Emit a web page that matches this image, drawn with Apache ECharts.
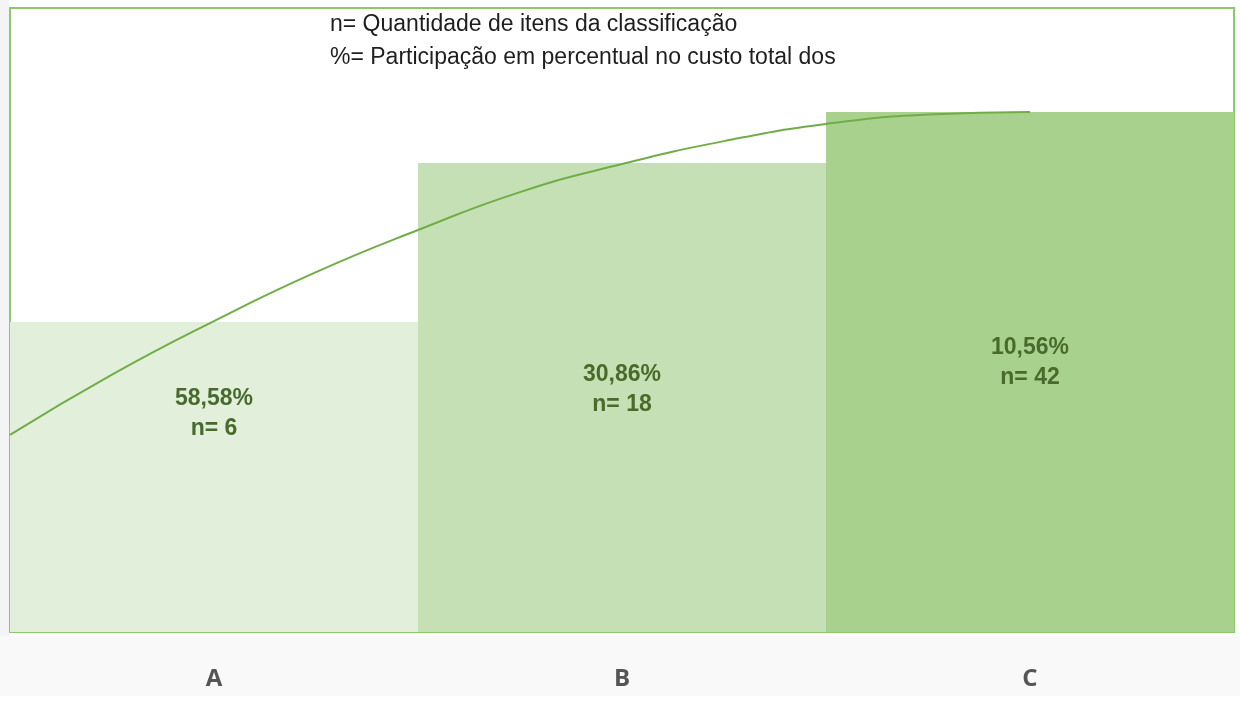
<!DOCTYPE html>
<html><head><meta charset="utf-8">
<script src="https://cdn.jsdelivr.net/npm/echarts@6/dist/echarts.min.js"></script>
<style>html,body{margin:0;padding:0;background:#fff}#c{width:1240px;height:710px}</style>
</head><body><div id="c"></div>
<script>
const categories = ['A', 'B', 'C'];
const barHeights = [59.6, 90.2, 100];
const pctLabels = ['58,58%', '30,86%', '10,56%'];
const nItems = [6, 18, 42];
const barColors = ['#e2efda', '#c5e0b4', '#a9d18e'];
const curveX = [0, 0.25, 0.5, 0.75, 1.0, 1.25, 1.5, 1.75, 2.0, 2.25, 2.5];
const curveY = [37.9, 49.5, 59.8, 69.2, 77.3, 84.6, 90.0, 94.4, 97.7, 99.5, 100];
const labelOffsets = [[0, -63], [0, -8], [0, -9]];
const headerLines = ['n= Quantidade de itens da classificação', '%= Participação em percentual no custo total dos'];

const sans = '"Liberation Sans", Arial, sans-serif';
const chart = echarts.init(document.getElementById('c'));
chart.setOption({
  backgroundColor: '#ffffff',
  animation: false,
  graphic: [
    { type: 'rect', z: -10, shape: { x: 0, y: 636, width: 1240, height: 60 }, style: { fill: '#f9f9f9' } },
    { type: 'rect', z: -10, shape: { x: 0, y: 0, width: 9, height: 636 }, style: { fill: '#f4f4f4' } }
  ],
  title: {
    text: headerLines.join('\n'),
    left: 325, top: 3,
    textStyle: { fontFamily: sans, fontSize: 23, fontWeight: 'normal', color: '#1e1e1e', lineHeight: 33 }
  },
  grid: {
    left: 10, right: 6, top: 8, bottom: 78,
    show: true, backgroundColor: 'transparent', borderColor: '#8dc86b', borderWidth: 2
  },
  xAxis: [
    {
      type: 'category', data: categories, boundaryGap: true,
      axisLine: { show: false }, axisTick: { show: false },
      axisLabel: { margin: 35, fontSize: 24, fontWeight: 'bold', color: '#555555', fontFamily: '"Open Sans", "DejaVu Sans", sans-serif' }
    },
    { type: 'value', min: 0, max: 3, show: false }
  ],
  yAxis: { type: 'value', min: 0, max: 120, show: false, splitLine: { show: false } },
  series: [
    {
      type: 'bar', barCategoryGap: '0%', z: 1,
      data: barHeights.map((v, i) => ({
        value: v,
        itemStyle: { color: barColors[i] },
        label: { offset: labelOffsets[i] }
      })),
      label: {
        show: true, position: 'inside',
        formatter: p => pctLabels[p.dataIndex] + '\n' + 'n= ' + nItems[p.dataIndex],
        fontFamily: sans, fontSize: 23, fontWeight: 'bold', color: '#486b2c', lineHeight: 30
      }
    },
    {
      type: 'line', xAxisIndex: 1, smooth: true, showSymbol: false, z: 3,
      lineStyle: { color: '#70ad47', width: 2 },
      data: curveX.map((x, i) => [x, curveY[i]])
    }
  ]
});
</script></body></html>
